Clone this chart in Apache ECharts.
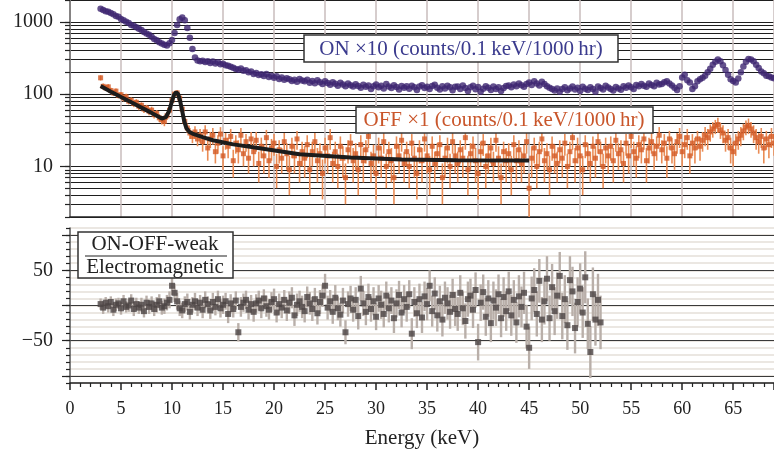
<!DOCTYPE html>
<html>
<head>
<meta charset="utf-8">
<script src="https://cdn.jsdelivr.net/npm/echarts@6.0.0/dist/echarts.min.js"></script>
<style>
  html, body { margin: 0; padding: 0; background: #fff; }
  #main { width: 774px; height: 460px; }
</style>
</head>
<body>
<div id="main"></div>
<script>
// spectra binned in 0.25 keV steps starting at 3.0 keV (one row = 5 keV)
var binStart = 3.0;
var binWidth = 0.25;

// ON x10 (counts/0.1 keV/1000 hr)
var onCounts = [
  1510, 1460, 1400, 1380, 1320, 1270, 1200, 1170, 1090, 1050, 1000, 960, 905, 880, 840, 800, 770, 720, 690, 660,
  620, 580, 555, 520, 500, 480, 470, 505, 560, 700, 900, 1080, 1150, 1050, 820, 600, 420, 320, 292, 285,
  290, 278, 285, 270, 282, 265, 275, 258, 262, 250, 246, 238, 232, 222, 218, 226, 210, 214, 200, 205,
  190, 196, 184, 188, 178, 190, 172, 180, 168, 176, 162, 170, 158, 166, 160, 152, 158, 148, 162, 154,
  150, 158, 144, 152, 141, 155, 146, 138, 150, 142, 135, 146, 139, 131, 143, 136, 128, 140, 133, 127,
  137, 129, 122, 135, 126, 132, 118, 128, 136, 124, 130, 120, 138, 127, 121, 133, 125, 116, 129, 122,
  128, 119, 131, 124, 114, 127, 133, 121, 126, 118, 129, 135, 122, 116, 128, 120, 131, 124, 113, 126,
  127, 118, 132, 121, 110, 124, 130, 117, 125, 108, 119, 128, 122, 114, 127, 118, 124, 110, 121, 129,
  132, 124, 136, 128, 140, 133, 126, 138, 145, 134, 150, 140, 132, 148, 138, 128, 122, 118, 112, 120,
  108, 118, 124, 113, 120, 127, 116, 122, 110, 126, 119, 114, 124, 118, 108, 127, 121, 116, 131, 123,
  118, 112, 125, 120, 115, 128, 122, 132, 124, 118, 134, 128, 138, 130, 126, 140, 134, 128, 144, 136,
  138, 146, 150, 140, 132, 122, 114, 128, 170, 185, 155, 145, 118, 128, 150, 160, 168, 180, 200, 225,
  255, 280, 300, 285, 250, 215, 185, 160, 152, 145, 165, 200, 240, 280, 305, 300, 285, 255, 230, 205,
  195, 180, 176, 170, 166
];

// OFF x1 (counts/0.1 keV/1000 hr) and its error
var offCounts = [
  168, 128, 122, 126, 112, 104, 110, 96, 98, 88, 92, 80, 82, 74, 77, 68, 70, 62, 64, 58,
  60, 52, 54, 47, 44, 42, 50, 60, 82, 100, 104, 88, 62, 42, 34, 29, 26, 30, 24, 27,
  22, 30, 18, 24, 27, 16, 21, 28, 14, 23, 19, 26, 12, 21, 17, 27, 15, 22, 13, 24,
  16, 23, 11, 19, 14, 25, 12, 18, 21, 10, 17, 13, 22, 15, 9, 19, 14, 24, 11, 16,
  13, 20, 9, 16, 22, 12, 15, 8, 18, 14, 25, 11, 16, 10, 19, 13, 7, 17, 21, 12,
  15, 9, 20, 12, 17, 26, 11, 14, 8, 18, 13, 22, 10, 16, 12, 7, 19, 14, 23, 11,
  16, 10, 21, 13, 8, 17, 12, 24, 14, 9, 19, 11, 15, 20, 7, 13, 18, 10, 22, 14,
  11, 17, 13, 25, 9, 15, 19, 12, 8, 16, 21, 10, 14, 18, 11, 23, 13, 7, 16, 12,
  15, 9, 20, 12, 17, 11, 14, 22, 5, 13, 18, 10, 16, 24, 12, 15, 9, 19, 14, 11,
  17, 13, 21, 10, 16, 25, 12, 18, 14, 9, 20, 15, 11, 19, 13, 22, 16, 10, 18, 14,
  19, 12, 23, 15, 17, 11, 21, 14, 26, 16, 13, 20, 17, 24, 12, 18, 22, 15, 19, 27,
  17, 21, 13, 24, 18, 15, 22, 26, 16, 20, 25, 14, 21, 18, 24, 19, 23, 27, 25, 30,
  33, 36, 38, 32, 29, 23, 25, 18, 16, 21, 24, 27, 31, 35, 37, 33, 29, 25, 22, 26,
  18, 24, 20, 26, 21
];
var offErr = [
  14, 12, 11, 11, 10, 10, 10, 9, 9, 9, 9, 8, 8, 8, 8, 8, 7, 7, 7, 7,
  7, 6, 6, 6, 6, 6, 6, 7, 8, 9, 9, 8, 7, 6, 5, 5, 5, 6, 5, 6,
  6, 7, 6, 6, 7, 5, 6, 7, 5, 6, 6, 7, 5, 6, 6, 7, 5, 6, 5, 6,
  6, 7, 5, 6, 6, 7, 5, 6, 7, 5, 6, 5, 7, 6, 5, 6, 6, 7, 5, 6,
  6, 7, 5, 6, 7, 6, 6, 4.5, 7, 6, 8, 5, 6, 5, 7, 6, 4, 6, 7, 6,
  6, 5, 7, 6, 6, 8, 5, 6, 4.5, 7, 6, 7, 5, 6, 6, 4, 7, 6, 7, 5,
  6, 5, 7, 6, 4.5, 6, 6, 8, 6, 5, 7, 5, 6, 7, 4, 6, 7, 5, 7, 6,
  5, 6, 6, 8, 5, 6, 7, 6, 4.5, 6, 7, 5, 6, 7, 5, 7, 6, 4, 6, 6,
  6, 5, 7, 6, 6, 5, 6, 7, 3, 6, 7, 5, 6, 8, 6, 6, 5, 7, 6, 5,
  6, 6, 7, 5, 6, 8, 6, 7, 6, 5, 7, 6, 5, 7, 6, 7, 6, 5, 7, 6,
  7, 6, 7, 6, 6, 5, 7, 6, 8, 6, 6, 7, 6, 7, 6, 7, 7, 6, 7, 8,
  6, 7, 6, 7, 7, 6, 7, 8, 6, 7, 8, 6, 7, 7, 7, 7, 7, 8, 8, 8,
  8, 8, 9, 8, 8, 7, 8, 7, 6, 7, 7, 8, 8, 8, 9, 8, 8, 8, 7, 8,
  7, 7, 7, 8, 7
];

// fit to OFF
var fitEnergy = [3, 4, 5, 6, 7, 8, 9, 9.4, 9.7, 10, 10.2, 10.4, 10.6, 10.8, 11, 11.2, 11.4, 11.7, 12, 13, 14, 16, 18.6, 22.5, 27.5, 32.5, 38, 45];
var fitCounts = [129, 108, 91, 77, 65, 55, 46, 48, 58, 80, 98, 106, 100, 80, 58, 42, 34, 30, 28.5, 25.5, 23, 20.2, 17.8, 14.7, 13.3, 12.5, 12.2, 12.1];

// ON-OFF-weak, 3.0 .. 52.0 keV
var diffCounts = [
  2, -3, 4, -1, 5, -6, 1, 3, -4, 6, -2, 0, 7, -5, 2, -3, 1, -8, 4, -2,
  3, -5, 1, 6, -3, -1, 4, 8, 28, 18, 6, -4, -7, 2, 5, -9, 1, 6, -3, 4,
  -6, 8, 2, -7, 5, -2, 9, -4, 1, 6, -12, 3, -5, 7, -38, -2, 4, 8, -6, 2,
  -9, 3, 7, -4, 10, -1, -6, 5, 9, -10, 2, -3, 8, -7, 4, 11, -14, 1, 6, -2,
  -8, 12, 3, -5, 9, -11, 5, 14, 28, -3, 6, -9, 11, -4, -13, 7, -38, 2, 10, -6,
  8, -15, 24, 3, -9, 12, -5, 6, -16, 10, 1, -12, 14, -4, 7, -18, 3, 15, -10, 9,
  -2, 16, -40, 5, -11, 9, -17, 13, 2, 28, -8, 17, -14, 6, -20, 11, 3, -9, 15, -5,
  -12, 18, -4, -22, 9, 14, -6, 22, -52, 4, 19, -16, 10, -25, 7, -3, 16, -18, 12, -8,
  20, -14, 8, -24, 13, -2, 18, -30, -60, 10, 22, -12, 35, -20, 6, 38, -18, 26, -8, 14,
  42, -15, 9, -28, 36, 20, -32, 5, 24, -10, 40, -26, -66, 16, -20, 8, -24
];
var diffErr = [
  8, 9, 8, 9, 8, 9, 9, 8, 9, 9, 8, 9, 9, 10, 9, 9, 10, 9, 10, 10,
  10, 10, 11, 10, 10, 11, 11, 12, 13, 13, 12, 11, 11, 11, 12, 11, 11, 12, 12, 11,
  12, 12, 11, 12, 13, 12, 12, 13, 13, 12, 13, 13, 12, 13, 13, 14, 13, 13, 14, 13,
  14, 13, 14, 14, 13, 15, 14, 14, 15, 14, 15, 15, 14, 15, 16, 15, 15, 16, 15, 16,
  16, 15, 16, 17, 16, 16, 17, 16, 17, 17, 16, 17, 18, 17, 17, 18, 17, 18, 18, 17,
  18, 19, 18, 18, 19, 19, 18, 20, 19, 19, 20, 19, 20, 20, 19, 21, 20, 20, 21, 20,
  21, 20, 22, 21, 21, 22, 22, 21, 23, 22, 22, 23, 23, 22, 24, 23, 23, 24, 23, 24,
  24, 25, 24, 25, 25, 24, 26, 25, 26, 26, 25, 27, 26, 27, 27, 26, 28, 27, 28, 28,
  28, 29, 28, 29, 30, 29, 30, 31, 30, 31, 31, 32, 31, 32, 33, 32, 32, 33, 34, 33,
  34, 33, 34, 35, 34, 35, 36, 35, 36, 36, 37, 36, 37, 38, 37, 37, 38
];

var xTicks = [0, 5, 10, 15, 20, 25, 30, 35, 40, 45, 50, 55, 60, 65];
var logMajor = [10, 100, 1000];
var logGrid = [2, 3, 4, 5, 6, 7, 8, 9, 10, 20, 30, 40, 50, 60, 70, 80, 90, 100,
  200, 300, 400, 500, 600, 700, 800, 900, 1000, 2000];
var diffMajor = [-100, -50, 0, 50, 100];
var diffLabels = [-50, 50];

function energy(i) { return +(binStart + i * binWidth).toFixed(2); }

var onData = [], offData = [], offBars = [], diffData = [], diffBars = [], fitData = [];
for (var i = 0; i < onCounts.length; i++) onData.push([energy(i), onCounts[i]]);
for (var i = 0; i < offCounts.length; i++) {
  offData.push([energy(i), offCounts[i]]);
  offBars.push([energy(i), offCounts[i] - offErr[i], offCounts[i] + offErr[i]]);
}
for (var i = 0; i < diffCounts.length; i++) {
  diffData.push([energy(i), diffCounts[i]]);
  diffBars.push([energy(i), diffCounts[i] - diffErr[i], diffCounts[i] + diffErr[i]]);
}
for (var i = 0; i < fitEnergy.length; i++) fitData.push([fitEnergy[i], fitCounts[i]]);

function errorBar(color, width) {
  return function (params, api) {
    var p1 = api.coord([api.value(0), api.value(1)]);
    var p2 = api.coord([api.value(0), api.value(2)]);
    return {
      type: 'line',
      shape: { x1: p1[0], y1: p1[1], x2: p2[0], y2: p2[1] },
      style: { stroke: color, lineWidth: width }
    };
  };
}

var serif = '"Liberation Serif", serif';
var ink = '#222';

var option = {
  animation: false,
  backgroundColor: '#fff',
  grid: [
    { left: 70, top: 0, right: 0, height: 217 },
    { left: 70, top: 228, right: 0, height: 155 }
  ],
  xAxis: [
    {
      gridIndex: 0, type: 'value', min: 0, max: 69, interval: 5,
      axisLabel: { show: false },
      axisTick: { show: false },
      axisLine: { show: true, onZero: false, lineStyle: { color: ink, width: 1.5 } },
      splitLine: { show: true, lineStyle: { color: '#c9bdbd', width: 1.5 } }
    },
    {
      gridIndex: 1, type: 'value', min: 0, max: 69, interval: 5,
      axisLine: { show: true, onZero: false, lineStyle: { color: ink, width: 1.5 } },
      axisTick: { show: true, length: 7, lineStyle: { color: ink, width: 1.5 } },
      minorTick: { show: true, splitNumber: 5, length: 4, lineStyle: { color: ink, width: 1.2 } },
      axisLabel: { fontFamily: serif, fontSize: 18, color: ink, margin: 17, customValues: xTicks },
      splitLine: { show: false },
      name: 'Energy (keV)', nameLocation: 'middle', nameGap: 45,
      nameTextStyle: { fontFamily: serif, fontSize: 21, color: ink }
    }
  ],
  yAxis: [
    {
      gridIndex: 0, type: 'log', logBase: 10, min: 2, max: 2000, position: 'left',
      axisLine: { show: true, lineStyle: { color: '#6a6a6a', width: 1.5 } },
      axisTick: { show: true, length: 10, customValues: logMajor, lineStyle: { color: ink, width: 1.2 } },
      axisLabel: { fontFamily: serif, fontSize: 20, color: ink, margin: 17, customValues: logMajor,
        formatter: function (v) { return String(v); } },
      splitLine: { show: false }
    },
    {
      gridIndex: 0, type: 'log', logBase: 10, min: 2, max: 2000, position: 'left',
      axisLine: { show: false },
      axisTick: { show: true, length: 5, customValues: logGrid, lineStyle: { color: ink, width: 1.2 } },
      axisLabel: { show: false },
      splitLine: { show: true, lineStyle: { color: '#1e1e1e', width: 1 } }
    },
    {
      gridIndex: 1, type: 'value', min: -110, max: 110, interval: 10, position: 'left',
      axisLine: { show: true, lineStyle: { color: '#555', width: 1.5 } },
      axisTick: { show: true, length: 4, lineStyle: { color: ink, width: 1.2 } },
      axisLabel: { show: false },
      splitLine: { show: true, lineStyle: { color: '#e4dfd8', width: 1.5 } }
    },
    {
      gridIndex: 1, type: 'value', min: -110, max: 110, position: 'left',
      axisLine: { show: false },
      axisTick: { show: true, length: 8, customValues: diffMajor, lineStyle: { color: ink, width: 1.2 } },
      axisLabel: { fontFamily: serif, fontSize: 20, color: ink, margin: 17, customValues: diffLabels,
        formatter: function (v) { return String(v).replace('-', '\u2212'); } },
      splitLine: { show: true, lineStyle: { color: '#3a3a3a', width: 1 } }
    }
  ],
  series: [
    {
      type: 'scatter', name: 'ON', xAxisIndex: 0, yAxisIndex: 0, data: onData,
      symbol: 'circle', symbolSize: 6.5, itemStyle: { color: '#3d2670' }, z: 3
    },
    {
      type: 'custom', name: 'OFF err', xAxisIndex: 0, yAxisIndex: 0, data: offBars,
      renderItem: errorBar('#ea8c55', 1.6), encode: { x: 0, y: [1, 2] }, z: 3
    },
    {
      type: 'scatter', name: 'OFF', xAxisIndex: 0, yAxisIndex: 0, data: offData,
      symbol: 'rect', symbolSize: 5, itemStyle: { color: '#d35a26' }, z: 4
    },
    {
      type: 'line', name: 'fit', xAxisIndex: 0, yAxisIndex: 0, data: fitData,
      symbol: 'none', lineStyle: { color: '#1c1c1c', width: 4 }, z: 5
    },
    {
      type: 'custom', name: 'diff err', xAxisIndex: 1, yAxisIndex: 2, data: diffBars,
      renderItem: errorBar('#b9afa9', 2.4), encode: { x: 0, y: [1, 2] }, z: 3
    },
    {
      type: 'scatter', name: 'diff', xAxisIndex: 1, yAxisIndex: 2, data: diffData,
      symbol: 'rect', symbolSize: 6, itemStyle: { color: '#4b4343' }, z: 4
    }
  ],
  graphic: [
    { type: 'rect', z: 100, zlevel: 1, shape: { x: 304, y: 35, width: 314, height: 27 },
      style: { fill: '#fff', stroke: '#333', lineWidth: 1.5 } },
    { type: 'text', z: 101, zlevel: 1, x: 461, y: 49,
      style: { text: 'ON \u00d710 (counts/0.1\u2009keV/1000\u2009hr)', fill: '#3b3b8e',
        font: '21px ' + serif, align: 'center', verticalAlign: 'middle' } },
    { type: 'rect', z: 100, zlevel: 1, shape: { x: 356, y: 107, width: 297, height: 26 },
      style: { fill: '#fff', stroke: '#333', lineWidth: 1.5 } },
    { type: 'text', z: 101, zlevel: 1, x: 504, y: 120,
      style: { text: 'OFF \u00d71 (counts/0.1\u2009keV/1000\u2009hr)', fill: '#c9562b',
        font: '21px ' + serif, align: 'center', verticalAlign: 'middle' } },
    { type: 'rect', z: 100, zlevel: 1, shape: { x: 78, y: 232, width: 155, height: 46 },
      style: { fill: '#fff', stroke: '#333', lineWidth: 1.5 } },
    { type: 'text', z: 101, zlevel: 1, x: 155, y: 244,
      style: { text: 'ON-OFF-weak', fill: ink, font: '21px ' + serif, align: 'center', verticalAlign: 'middle' } },
    { type: 'line', z: 101, zlevel: 1, shape: { x1: 85, y1: 256, x2: 227, y2: 256 },
      style: { stroke: ink, lineWidth: 1.2 } },
    { type: 'text', z: 101, zlevel: 1, x: 155, y: 267,
      style: { text: 'Electromagnetic', fill: ink, font: '21px ' + serif, align: 'center', verticalAlign: 'middle' } }
  ]
};

var myChart = echarts.init(document.getElementById('main'), null, { renderer: 'canvas' });
myChart.setOption(option, true);
</script>
</body>
</html>
